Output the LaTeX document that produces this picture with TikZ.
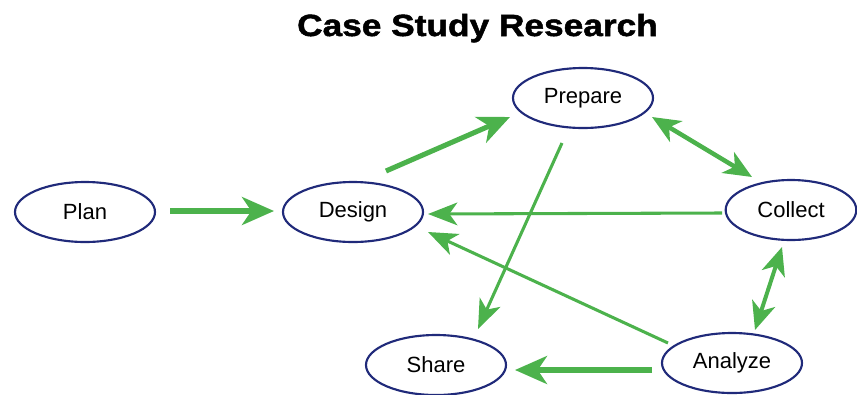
\documentclass[tikz,border=0pt]{standalone}
\usepackage{fontspec}
\setmainfont{Liberation Sans}
\newfontfamily\titlefont[FakeStretch=1.15,FakeBold=1.6]{Liberation Sans}
\usetikzlibrary{shapes.geometric,arrows.meta,calc}
\definecolor{stepgreen}{RGB}{76,178,76}
\definecolor{ovalblue}{RGB}{32,42,122}

\begin{document}
\begin{tikzpicture}[x=0.75pt,y=0.75pt,yscale=-1,xscale=1,
  oval/.style={ellipse,draw=ovalblue,line width=1.6pt,minimum width=105pt,minimum height=45pt,inner sep=0pt,font=\fontsize{16.5}{19}\selectfont},
  thickarr/.style={draw=stepgreen,line width=3.8pt,-{Stealth[length=24pt,width=21pt,inset=7pt]}},
  thinarr/.style={draw=stepgreen,line width=2.3pt,-{Stealth[length=22pt,width=17pt,inset=6pt]}},
  twoway/.style={draw=stepgreen,line width=3.4pt,{Stealth[length=21pt,width=18pt,inset=6pt]}-{Stealth[length=21pt,width=18pt,inset=6pt]}}]
\useasboundingbox (0,0) rectangle (857,394);

% Title
\node [anchor=base,font=\titlefont\bfseries\fontsize{23}{26}\selectfont] (title) at (477.5,36) {Case Study Research};

%Shape: Ellipse
\node [oval] (plan) at (85,212) {Plan};
\node [oval] (design) at (353,212) {Design};
\node [oval] (prepare) at (583,98) {Prepare};
\node [oval,minimum width=98pt] (collect) at (791,210) {Collect};
\node [oval] (share) at (436,365) {Share};
\node [oval] (analyze) at (732,363) {Analyze};

%Straight Lines
\draw [thickarr] ($(plan)+(85,-1)$) -- ($(design)+(-79,-1)$);
\draw [thickarr] ($(design)+(33,-41)$) -- ($(prepare)+(-73,19)$);
\draw [twoway] ($(prepare)+(69,19)$) -- ($(collect)+(-39,-33)$);
\draw [thinarr] ($(collect)+(-69,3)$) -- ($(design)+(75,2)$);
\draw [thinarr] ($(prepare)+(-21,45)$) -- ($(share)+(42,-36)$);
\draw [thinarr] ($(analyze)+(-64,-20)$) -- ($(design)+(75,20)$);
\draw [thickarr] ($(analyze)+(-80,7)$) -- ($(share)+(79,5)$);
\draw [twoway,line width=3pt] ($(collect)+(-9,37)$) -- ($(analyze)+(23,-33)$);

\end{tikzpicture}
\end{document}
